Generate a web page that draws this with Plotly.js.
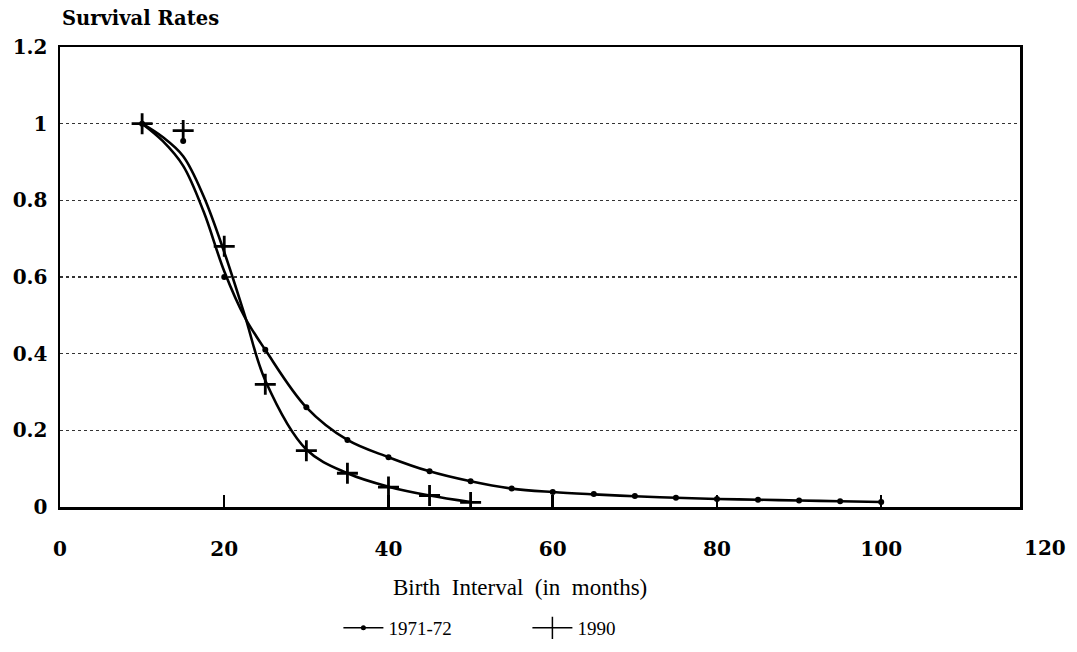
<!DOCTYPE html>
<html>
<head>
<meta charset="utf-8">
<script src="https://cdn.plot.ly/plotly-3.0.1.min.js"></script>
<style>html,body{margin:0;padding:0;background:#fff;}#chart{width:1077px;height:652px;}</style>
</head>
<body>
<div id="chart"></div>
<script>
// Observed survival rates (markers)
const months1971 = [10, 15, 20, 25, 30, 35, 40, 45, 50, 55, 60, 65, 70, 75, 80, 85, 90, 95, 100];
const rate1971 = [1.0, 0.955, 0.60, 0.41, 0.26, 0.175, 0.13, 0.093, 0.067, 0.048, 0.039, 0.034, 0.029, 0.024, 0.021, 0.019, 0.017, 0.015, 0.013];
const months1990 = [10, 15, 20, 25, 30, 35, 40, 45, 50];
const rate1990 = [1.0, 0.982, 0.68, 0.32, 0.147, 0.088, 0.052, 0.03, 0.012];

// Smoothed curves
const fitMonths1971 = [10, 12.5, 15, 17.5, 20, 22.5, 25, 30, 35, 40, 45, 50, 55, 60, 65, 70, 75, 80, 85, 90, 95, 100];
const fit1971 = [1.0, 0.955, 0.89, 0.77, 0.615, 0.495, 0.41, 0.26, 0.175, 0.13, 0.093, 0.067, 0.048, 0.039, 0.033, 0.028, 0.024, 0.021, 0.019, 0.017, 0.015, 0.013];
const fitMonths1990 = [10, 12.5, 15, 17.5, 20, 22.5, 25, 30, 35, 40, 45, 50];
const fit1990 = [1.0, 0.965, 0.915, 0.81, 0.665, 0.50, 0.33, 0.15, 0.088, 0.053, 0.03, 0.013];

const seriesNames = ["1971-72", "1990"];
const xTicks = [0, 20, 40, 60, 80, 100];
const xTickExtra = 120;

const boldFont = {family: "DejaVu Serif", size: 20, color: "#000", weight: "bold"};
const serifFont = {family: "Liberation Serif", size: 19, color: "#000"};

const traces = [
  {x: fitMonths1971, y: fit1971, mode: "lines", line: {color: "#000", width: 2.6, shape: "spline", smoothing: 1}, showlegend: false, hoverinfo: "skip"},
  {x: fitMonths1990, y: fit1990, mode: "lines", line: {color: "#000", width: 2.6, shape: "spline", smoothing: 1}, showlegend: false, hoverinfo: "skip"},
  {x: months1971, y: rate1971, mode: "markers", marker: {symbol: "circle", size: 6, color: "#000"}, showlegend: false},
  {x: months1990, y: rate1990, mode: "markers", marker: {symbol: "cross-thin", size: 15, line: {color: "#000", width: 2.8}}, showlegend: false},
  // legend entries
  {x: [null], y: [null], name: seriesNames[0], mode: "lines+markers", line: {color: "#000", width: 1.5}, marker: {symbol: "circle", size: 5, color: "#000"}},
  {x: [null], y: [null], name: seriesNames[1], mode: "lines+markers", line: {color: "#000", width: 1.5}, marker: {symbol: "line-ns", size: 16, line: {color: "#000", width: 1.5}}}
];

const layout = {
  width: 1077, height: 652,
  margin: {l: 60, r: 57, t: 47, b: 145, autoexpand: false},
  paper_bgcolor: "#fff", plot_bgcolor: "#fff",
  title: {text: "Survival Rates", font: {family: "DejaVu Serif", size: 19.5, color: "#000", weight: "bold"}, x: 62/1077, xanchor: "left", y: 1 - 18/652, yanchor: "middle"},
  xaxis: {
    range: [0, 116.9], tickvals: xTicks, ticktext: xTicks.map(String), automargin: false,
    ticks: "inside", ticklen: 12, tickwidth: 2.5, tickcolor: "#000",
    showline: true, linecolor: "#000", linewidth: 2.5, mirror: true,
    showgrid: false, zeroline: false, tickfont: boldFont, ticklabelstandoff: 22
  },
  yaxis: {
    range: [0, 1.2], dtick: 0.2, tick0: 0, ticks: "", automargin: false,
    showline: true, linecolor: "#000", linewidth: 2.5, mirror: true,
    showgrid: true, gridcolor: "#333", gridwidth: 1.3, griddash: "dot",
    zeroline: false, tickfont: boldFont, ticklabelstandoff: 6
  },
  showlegend: true,
  legend: {orientation: "h", x: 0.29, xanchor: "left", y: -0.263, yanchor: "middle", font: serifFont, entrywidth: 134, entrywidthmode: "pixels", itemwidth: 40},
  annotations: [
    {text: String(xTickExtra), x: (1045 - 60) / 960, xref: "paper", xanchor: "center", y: 0, yref: "paper", yanchor: "middle", yshift: -41, showarrow: false, font: boldFont},
    {text: "Birth  Interval  (in  months)", x: (520 - 60) / 960, xref: "paper", xanchor: "center", y: -0.176, yref: "paper", yanchor: "middle", showarrow: false, font: {family: "Liberation Serif", size: 23, color: "#000"}}
  ]
};

Plotly.newPlot("chart", traces, layout, {displayModeBar: false, staticPlot: true});
</script>
</body>
</html>
